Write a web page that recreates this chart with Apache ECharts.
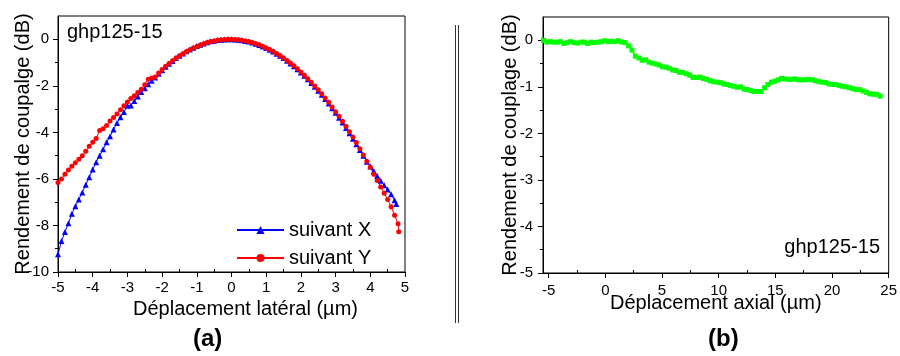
<!DOCTYPE html>
<html>
<head>
<meta charset="utf-8">
<script src="https://cdn.jsdelivr.net/npm/echarts@6/dist/echarts.min.js"></script>
<style>
html,body{margin:0;padding:0;background:#fff;}
#chart{width:900px;height:356px;}
</style>
</head>
<body>
<div id="chart"></div>
<script>
// ---- Data: (a) lateral displacement ----
const latXPos = [-5.0,-4.9,-4.8,-4.7,-4.6,-4.5,-4.4,-4.3,-4.2,-4.1,-4.0,-3.9,-3.8,-3.7,-3.6,-3.5,-3.4,-3.3,-3.2,-3.1,-3.0,-2.9,-2.8,-2.7,-2.6,-2.5,-2.4,-2.3,-2.2,-2.1,-2.0,-1.9,-1.8,-1.7,-1.6,-1.5,-1.4,-1.3,-1.2,-1.1,-1.0,-0.9,-0.8,-0.7,-0.6,-0.5,-0.4,-0.3,-0.2,-0.1,0.0,0.1,0.2,0.3,0.4,0.5,0.6,0.7,0.8,0.9,1.0,1.1,1.2,1.3,1.4,1.5,1.6,1.7,1.8,1.9,2.0,2.1,2.2,2.3,2.4,2.5,2.6,2.7,2.8,2.9,3.0,3.1,3.2,3.3,3.4,3.5,3.6,3.7,3.8,3.9,4.0,4.1,4.2,4.3,4.4,4.5,4.6,4.7,4.75];
const suivantX = [-9.24,-8.67,-8.28,-7.91,-7.50,-7.18,-6.88,-6.58,-6.25,-5.93,-5.60,-5.28,-5.00,-4.73,-4.43,-4.17,-3.88,-3.60,-3.35,-3.12,-2.86,-2.85,-2.65,-2.46,-2.27,-2.10,-1.93,-1.78,-1.64,-1.48,-1.33,-1.18,-1.05,-0.93,-0.81,-0.71,-0.61,-0.52,-0.44,-0.36,-0.29,-0.23,-0.18,-0.13,-0.09,-0.06,-0.03,-0.02,-0.01,0.00,0.00,-0.01,-0.02,-0.04,-0.07,-0.10,-0.14,-0.19,-0.25,-0.31,-0.38,-0.45,-0.53,-0.62,-0.71,-0.81,-0.92,-1.04,-1.16,-1.29,-1.43,-1.57,-1.72,-1.88,-2.04,-2.21,-2.38,-2.57,-2.76,-2.96,-3.16,-3.37,-3.58,-3.81,-4.04,-4.27,-4.51,-4.76,-5.01,-5.26,-5.47,-5.66,-5.88,-6.08,-6.27,-6.46,-6.66,-6.92,-7.08];
const latYPos = [-5.0,-4.9,-4.8,-4.7,-4.6,-4.5,-4.4,-4.3,-4.2,-4.1,-4.0,-3.9,-3.8,-3.7,-3.6,-3.5,-3.4,-3.3,-3.2,-3.1,-3.0,-2.9,-2.8,-2.7,-2.6,-2.5,-2.4,-2.3,-2.2,-2.1,-2.0,-1.9,-1.8,-1.7,-1.6,-1.5,-1.4,-1.3,-1.2,-1.1,-1.0,-0.9,-0.8,-0.7,-0.6,-0.5,-0.4,-0.3,-0.2,-0.1,0.0,0.1,0.2,0.3,0.4,0.5,0.6,0.7,0.8,0.9,1.0,1.1,1.2,1.3,1.4,1.5,1.6,1.7,1.8,1.9,2.0,2.1,2.2,2.3,2.4,2.5,2.6,2.7,2.8,2.9,3.0,3.1,3.2,3.3,3.4,3.5,3.6,3.7,3.8,3.9,4.0,4.1,4.2,4.3,4.4,4.5,4.6,4.7,4.8,4.82];
const suivantY = [-6.15,-6.00,-5.80,-5.62,-5.46,-5.31,-5.15,-5.00,-4.81,-4.60,-4.42,-4.26,-3.92,-3.85,-3.70,-3.51,-3.36,-3.21,-3.03,-2.86,-2.69,-2.55,-2.43,-2.29,-2.15,-1.95,-1.72,-1.66,-1.62,-1.45,-1.30,-1.16,-1.04,-0.92,-0.81,-0.71,-0.62,-0.53,-0.45,-0.38,-0.31,-0.25,-0.19,-0.14,-0.10,-0.07,-0.04,-0.02,-0.01,0.00,0.00,-0.01,-0.02,-0.04,-0.07,-0.10,-0.14,-0.19,-0.24,-0.30,-0.37,-0.44,-0.52,-0.61,-0.70,-0.80,-0.91,-1.02,-1.14,-1.27,-1.41,-1.55,-1.70,-1.85,-2.01,-2.17,-2.34,-2.52,-2.71,-2.91,-3.11,-3.31,-3.52,-3.74,-3.97,-4.20,-4.44,-4.70,-4.97,-5.24,-5.50,-5.80,-6.07,-6.35,-6.62,-6.88,-7.20,-7.56,-7.93,-8.27];

// ---- Data: (b) axial displacement ----
const axPos = [-5.45,-5.15,-4.85,-4.55,-4.25,-3.95,-3.65,-3.35,-3.05,-2.75,-2.45,-2.15,-1.85,-1.55,-1.25,-0.95,-0.65,-0.35,-0.05,0.25,0.55,0.85,1.15,1.45,1.75,2.05,2.35,2.65,2.95,3.25,3.55,3.85,4.15,4.45,4.75,5.05,5.35,5.65,5.95,6.25,6.55,6.85,7.15,7.45,7.75,8.05,8.35,8.65,8.95,9.25,9.55,9.85,10.15,10.45,10.75,11.05,11.35,11.65,11.95,12.25,12.55,12.85,13.15,13.45,13.75,14.05,14.35,14.65,14.95,15.25,15.55,15.85,16.15,16.45,16.75,17.05,17.35,17.65,17.95,18.25,18.55,18.85,19.15,19.45,19.75,20.05,20.35,20.65,20.95,21.25,21.55,21.85,22.15,22.45,22.75,23.05,23.35,23.65,23.95,24.25];
const axial = [0.00,-0.04,-0.03,-0.04,-0.04,-0.03,-0.07,-0.05,-0.03,-0.05,-0.06,-0.04,-0.04,-0.07,-0.04,-0.05,-0.04,-0.03,-0.01,-0.03,-0.02,-0.03,-0.01,-0.04,-0.05,-0.12,-0.21,-0.34,-0.38,-0.43,-0.42,-0.47,-0.49,-0.51,-0.53,-0.57,-0.58,-0.60,-0.64,-0.65,-0.69,-0.69,-0.72,-0.75,-0.80,-0.80,-0.79,-0.82,-0.84,-0.87,-0.89,-0.90,-0.91,-0.94,-0.95,-0.97,-0.99,-1.01,-1.00,-1.05,-1.06,-1.08,-1.10,-1.10,-1.10,-1.02,-0.95,-0.90,-0.88,-0.85,-0.82,-0.83,-0.84,-0.84,-0.83,-0.85,-0.85,-0.85,-0.84,-0.85,-0.87,-0.89,-0.90,-0.91,-0.94,-0.95,-0.95,-0.97,-0.99,-1.00,-1.02,-1.04,-1.06,-1.06,-1.09,-1.12,-1.15,-1.16,-1.16,-1.20];

// ---- Tick labels ----
const latXTicks = [-5,-4,-3,-2,-1,0,1,2,3,4,5];
const latXMinor = [-4.5,-3.5,-2.5,-1.5,-0.5,0.5,1.5,2.5,3.5,4.5];
const latYTicks = [-10,-8,-6,-4,-2,0];
const latYMinor = [-9,-7,-5,-3,-1];
const axXTicks = [-5,0,5,10,15,20,25];
const axXMinor = [-2.5,2.5,7.5,12.5,17.5,22.5];
const axYTicks = [-5,-4,-3,-2,-1,0];
const axYMinor = [-4.5,-3.5,-2.5,-1.5,-0.5];

const FONT = 'Liberation Sans, Arial, sans-serif';
const zip = (xs, ys) => xs.map((x, i) => [x, ys[i]]);

function majorX(grid, min, max, ticks, name, gap, pad, margin) {
  return {
    type: 'value', gridIndex: grid, position: 'bottom', min: min, max: max,
    name: name, nameLocation: 'middle', nameGap: gap, nameMoveOverlap: false,
    nameTextStyle: { fontFamily: FONT, fontSize: 20, color: '#000', padding: pad },
    axisLine: { show: true, onZero: false, lineStyle: { color: '#000', width: 1 } },
    axisTick: { show: true, customValues: ticks, length: 5, lineStyle: { color: '#000' } },
    axisLabel: { customValues: ticks, margin: margin, fontFamily: FONT, fontSize: 15, color: '#000' },
    splitLine: { show: false }
  };
}
function minorX(grid, min, max, ticks) {
  return {
    type: 'value', gridIndex: grid, position: 'bottom', min: min, max: max,
    axisLine: { show: false, onZero: false },
    axisTick: { show: true, customValues: ticks, inside: true, length: 3, lineStyle: { color: '#000' } },
    axisLabel: { show: false },
    splitLine: { show: false }
  };
}
function majorY(grid, min, max, ticks, name, gap, margin) {
  return {
    type: 'value', gridIndex: grid, position: 'left', min: min, max: max,
    name: name, nameLocation: 'middle', nameGap: gap, nameMoveOverlap: false,
    nameTextStyle: { fontFamily: FONT, fontSize: 20, color: '#000' },
    axisLine: { show: true, onZero: false, lineStyle: { color: '#000', width: 1 } },
    axisTick: { show: true, customValues: ticks, length: 5, lineStyle: { color: '#000' } },
    axisLabel: { customValues: ticks, margin: margin, fontFamily: FONT, fontSize: 15, color: '#000' },
    splitLine: { show: false }
  };
}
function minorY(grid, min, max, ticks) {
  return {
    type: 'value', gridIndex: grid, position: 'left', min: min, max: max,
    axisLine: { show: false, onZero: false },
    axisTick: { show: true, customValues: ticks, length: 3, lineStyle: { color: '#000' } },
    axisLabel: { show: false },
    splitLine: { show: false }
  };
}

const chart = echarts.init(document.getElementById('chart'), null, { renderer: 'canvas' });
chart.setOption({
  animation: false,
  backgroundColor: '#fff',
  textStyle: { fontFamily: FONT },
  grid: [
    { left: 58, top: 16, width: 347, height: 256, show: true, borderColor: '#000', borderWidth: 1 },
    { left: 543, top: 17, width: 348, height: 256, show: true, borderColor: '#000', borderWidth: 1 }
  ],
  xAxis: [
    majorX(0, -5, 5, latXTicks, 'Déplacement latéral (µm)', 27, [0, 0, 0, 28], 8),
    minorX(0, -5, 5, latXMinor),
    majorX(1, -5.5, 25, axXTicks, 'Déplacement axial (µm)', 20, [0, 0, 0, 0], 10),
    minorX(1, -5.5, 25, axXMinor)
  ],
  yAxis: [
    majorY(0, -10, 1, latYTicks, 'Rendement de coupalge (dB)', 25, 9),
    minorY(0, -10, 1, latYMinor),
    majorY(1, -5, 0.5, axYTicks, 'Rendement de couplage (dB)', 23, 10),
    minorY(1, -5, 0.5, axYMinor)
  ],
  legend: {
    orient: 'vertical', left: 236, top: 220, padding: 0, itemWidth: 47, itemHeight: 10, itemGap: 8,
    textStyle: { fontFamily: FONT, fontSize: 20, color: '#000' },
    data: ['suivant X', 'suivant Y']
  },
  series: [
    {
      name: 'suivant X', type: 'line', xAxisIndex: 0, yAxisIndex: 0,
      data: zip(latXPos, suivantX),
      symbol: 'triangle', symbolSize: 6, showAllSymbol: true,
      lineStyle: { color: '#0000ff', width: 1 }, itemStyle: { color: '#0000ff' }
    },
    {
      name: 'suivant Y', type: 'line', xAxisIndex: 0, yAxisIndex: 0,
      data: zip(latYPos, suivantY),
      symbol: 'circle', symbolSize: 5, showAllSymbol: true,
      lineStyle: { color: '#ff0000', width: 1 }, itemStyle: { color: '#ff0000' }
    },
    {
      name: 'axial', type: 'line', xAxisIndex: 2, yAxisIndex: 2,
      data: zip(axPos, axial),
      symbol: 'rect', symbolSize: 5, showAllSymbol: true,
      lineStyle: { color: '#00ff00', width: 1.5 }, itemStyle: { color: '#00ff00' }
    }
  ],
  graphic: [
    { type: 'text', left: 67, top: 22, style: { text: 'ghp125-15', fontFamily: FONT, fontSize: 20, fill: '#000' } },
    { type: 'text', right: 20, top: 237, style: { text: 'ghp125-15', fontFamily: FONT, fontSize: 20, fill: '#000' } },
    { type: 'text', left: 193, top: 327, style: { text: '(a)', fontFamily: FONT, fontSize: 24, fontWeight: 'bold', fill: '#000' } },
    { type: 'text', left: 708, top: 327, style: { text: '(b)', fontFamily: FONT, fontSize: 24, fontWeight: 'bold', fill: '#000' } },
    { type: 'line', shape: { x1: 455.5, y1: 25, x2: 455.5, y2: 323 }, style: { stroke: '#333', lineWidth: 1 } },
    { type: 'line', shape: { x1: 458.5, y1: 25, x2: 458.5, y2: 323 }, style: { stroke: '#333', lineWidth: 1 } }
  ]
});
</script>
</body>
</html>
